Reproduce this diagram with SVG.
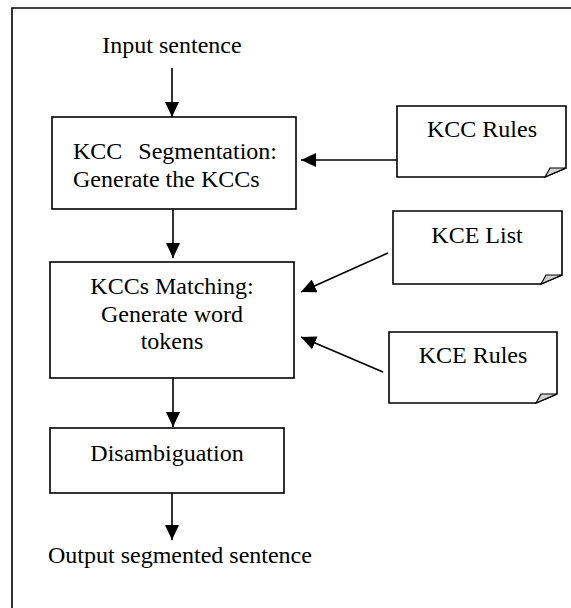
<svg xmlns="http://www.w3.org/2000/svg" width="571" height="608" viewBox="0 0 571 608">
<style>
  text { font-family: "Liberation Serif", "Times New Roman", serif; font-size: 24px; fill: #000; }
  .box { fill: #fff; stroke: #000; stroke-width: 1.6; }
  .note { fill: #fff; stroke: #000; stroke-width: 1.6; }
  .fold { fill: #d0d0d0; stroke: #000; stroke-width: 1.2; }
  .conn { stroke: #000; stroke-width: 1.6; fill: none; marker-end: url(#ah); }
</style>
<defs>
  <marker id="ah" markerUnits="userSpaceOnUse" markerWidth="16" markerHeight="14" refX="15" refY="7" orient="auto">
    <path d="M0,0 L15,7 L0,14 Z" fill="#000"/>
  </marker>
</defs>
<rect x="0" y="0" width="571" height="608" fill="#fff"/>
<path id="frame" d="M12,610 V8 H575" fill="none" stroke="#000" stroke-width="1.6"/>

<g id="input">
  <text x="172" y="53" text-anchor="middle">Input sentence</text>
</g>

<g id="segmentation">
  <rect class="box" x="52" y="117" width="244" height="92"/>
  <text x="73" y="159">KCC</text>
  <text x="277" y="159" text-anchor="end">Segmentation:</text>
  <text x="73" y="187">Generate the KCCs</text>
</g>

<g id="matching">
  <rect class="box" x="50" y="262" width="244" height="116"/>
  <text x="172" y="294" text-anchor="middle">KCCs Matching:</text>
  <text x="172" y="322" text-anchor="middle">Generate word</text>
  <text x="172" y="349" text-anchor="middle">tokens</text>
</g>

<g id="disambiguation">
  <rect class="box" x="50" y="428" width="234" height="65"/>
  <text x="167" y="461" text-anchor="middle">Disambiguation</text>
</g>

<g id="output">
  <text x="48" y="563">Output segmented sentence</text>
</g>

<g id="kcc-rules">
  <path class="note" d="M397,106 H566 V168 L545,177 H397 Z"/>
  <path class="fold" d="M545,177 L550,168 L566,168 Z"/>
  <text x="482" y="137" text-anchor="middle">KCC Rules</text>
</g>

<g id="kce-list">
  <path class="note" d="M393,211 H562 V275 L541,284 H393 Z"/>
  <path class="fold" d="M541,284 L546,275 L562,275 Z"/>
  <text x="477" y="243" text-anchor="middle">KCE List</text>
</g>

<g id="kce-rules">
  <path class="note" d="M389,332 H557 V394 L536,403 H389 Z"/>
  <path class="fold" d="M536,403 L541,394 L557,394 Z"/>
  <text x="473" y="363" text-anchor="middle">KCE Rules</text>
</g>

<g id="connectors">
  <line class="conn" x1="172" y1="68" x2="172" y2="117"/>
  <line class="conn" x1="173" y1="209" x2="173" y2="258"/>
  <line class="conn" x1="173" y1="378" x2="173" y2="427"/>
  <line class="conn" x1="172" y1="493" x2="172" y2="540"/>
  <line class="conn" x1="397" y1="160" x2="301" y2="160"/>
  <line class="conn" x1="388" y1="253" x2="301" y2="292"/>
  <line class="conn" x1="383" y1="372" x2="301" y2="337"/>
</g>
</svg>
